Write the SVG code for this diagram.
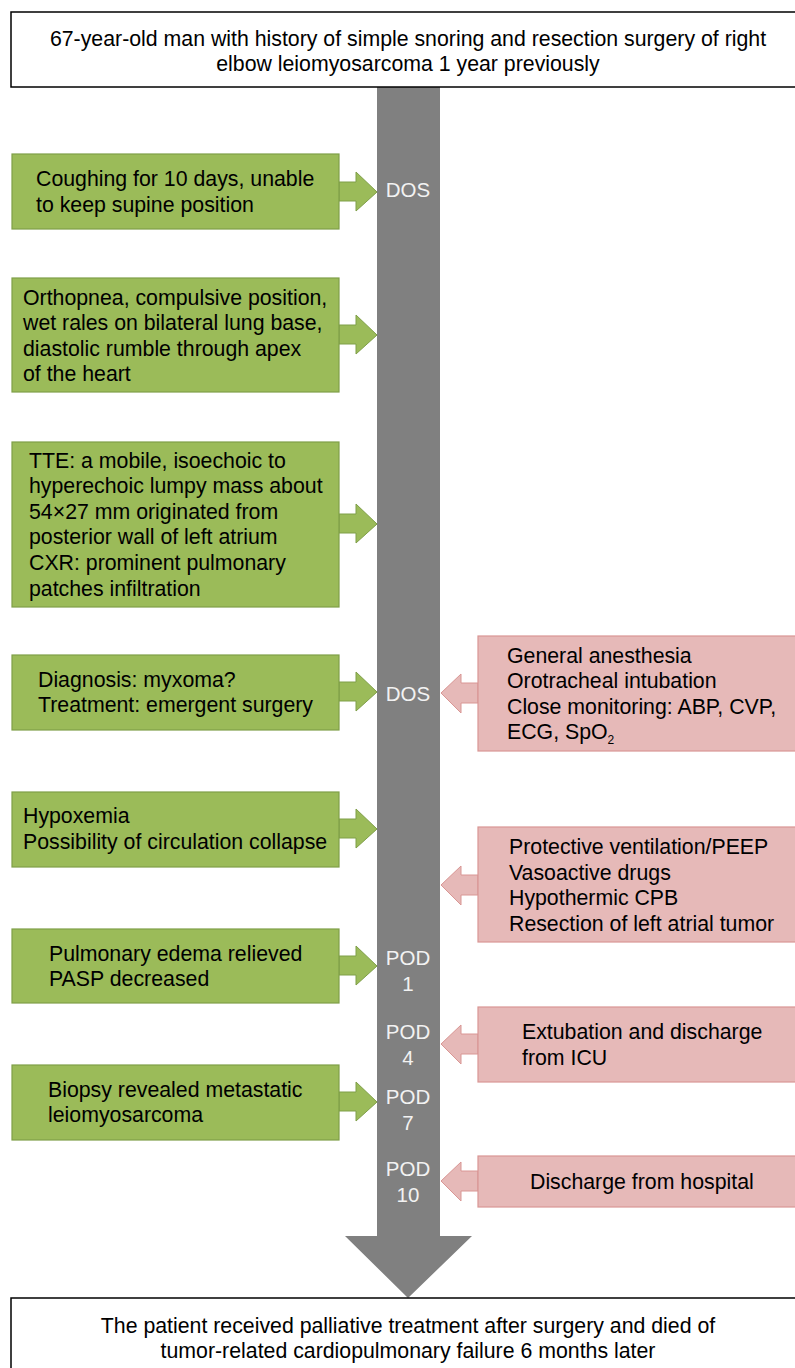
<svg xmlns="http://www.w3.org/2000/svg" width="795" height="1368" viewBox="0 0 795 1368">
<style>
text{font-family:"Liberation Sans",Arial,sans-serif;font-size:21.3px;fill:#000}
.wb{fill:#fff;stroke:#000;stroke-width:1.5}
.g{fill:#9BBB59;stroke:#7F9F48;stroke-width:1.2}
.p{fill:#E6B9B8;stroke:#D99694;stroke-width:1.2}
.ga{fill:#9BBB59;stroke:#7F9F48;stroke-width:1}
.pa{fill:#E6B9B8;stroke:#D99694;stroke-width:1}
.t{fill:#F2F2F2;text-anchor:middle;font-size:20.5px}
.c{text-anchor:middle}
</style>
<rect width="795" height="1368" fill="#fff"/>
<g id="timeline">
<path d="M377,87 H440 V1236 H472 L408,1298 L345,1236 H377 Z" fill="#808080"/>
<text class="t" x="408" y="197">DOS</text>
<text class="t" x="408" y="701">DOS</text>
<text class="t" x="408" y="965">POD</text>
<text class="t" x="408" y="991">1</text>
<text class="t" x="408" y="1039">POD</text>
<text class="t" x="408" y="1065">4</text>
<text class="t" x="408" y="1104">POD</text>
<text class="t" x="408" y="1130">7</text>
<text class="t" x="408" y="1176">POD</text>
<text class="t" x="408" y="1202">10</text>
</g>
<g id="top">
<rect class="wb" x="11" y="12" width="800" height="75"/>
<text class="c" x="408" y="46">67-year-old man with history of simple snoring and resection surgery of right</text>
<text class="c" x="408" y="71">elbow leiomyosarcoma 1 year previously</text>
</g>
<g id="bottom">
<rect class="wb" x="11" y="1298" width="800" height="80"/>
<text class="c" x="408" y="1333">The patient received palliative treatment after surgery and died of</text>
<text class="c" x="408" y="1358">tumor-related cardiopulmonary failure 6 months later</text>
</g>
<g id="connectors">
<path class="ga" d="M339,182 H356 V172 L377,192 L356,211 V201 H339 Z"/>
<path class="ga" d="M339,325 H356 V315 L377,335 L356,354 V344 H339 Z"/>
<path class="ga" d="M339,514 H356 V504 L377,524 L356,543 V533 H339 Z"/>
<path class="ga" d="M339,682 H356 V672 L377,692 L356,711 V701 H339 Z"/>
<path class="ga" d="M339,819 H356 V809 L377,829 L356,848 V838 H339 Z"/>
<path class="ga" d="M339,956 H356 V946 L377,966 L356,985 V975 H339 Z"/>
<path class="ga" d="M339,1092 H356 V1082 L377,1102 L356,1121 V1111 H339 Z"/>
<path class="pa" d="M478,683 H461 V674 L441,693 L461,713 V703 H478 Z"/>
<path class="pa" d="M478,875 H461 V866 L441,885 L461,905 V895 H478 Z"/>
<path class="pa" d="M478,1034 H461 V1025 L441,1044 L461,1064 V1054 H478 Z"/>
<path class="pa" d="M478,1171 H461 V1162 L441,1181 L461,1201 V1191 H478 Z"/>
</g>
<g id="g1">
<rect class="g" x="12" y="154" width="327" height="75"/>
<text x="36" y="186">Coughing for 10 days, unable</text>
<text x="36" y="212">to keep supine position</text>
</g>
<g id="g2">
<rect class="g" x="12" y="278" width="327" height="114"/>
<text x="23" y="305">Orthopnea, compulsive position,</text>
<text x="23" y="330">wet rales on bilateral lung base,</text>
<text x="23" y="356">diastolic rumble through apex</text>
<text x="23" y="381">of the heart</text>
</g>
<g id="g3">
<rect class="g" x="12" y="442" width="327" height="165"/>
<text x="29" y="468">TTE: a mobile, isoechoic to</text>
<text x="29" y="493">hyperechoic lumpy mass about</text>
<text x="29" y="519">54×27 mm originated from</text>
<text x="29" y="544">posterior wall of left atrium</text>
<text x="29" y="570">CXR: prominent pulmonary</text>
<text x="29" y="596">patches infiltration</text>
</g>
<g id="g4">
<rect class="g" x="12" y="655" width="327" height="75"/>
<text x="38" y="687">Diagnosis: myxoma?</text>
<text x="38" y="712">Treatment: emergent surgery</text>
</g>
<g id="g5">
<rect class="g" x="12" y="792" width="327" height="75"/>
<text x="23" y="823">Hypoxemia</text>
<text x="23" y="849">Possibility of circulation collapse</text>
</g>
<g id="g6">
<rect class="g" x="12" y="929" width="327" height="74"/>
<text x="49" y="961">Pulmonary edema relieved</text>
<text x="49" y="986">PASP decreased</text>
</g>
<g id="g7">
<rect class="g" x="12" y="1065" width="327" height="75"/>
<text x="48" y="1097">Biopsy revealed metastatic</text>
<text x="48" y="1122">leiomyosarcoma</text>
</g>
<g id="p1">
<rect class="p" x="478" y="636" width="330" height="115"/>
<text x="507" y="663">General anesthesia</text>
<text x="507" y="688">Orotracheal intubation</text>
<text x="507" y="714">Close monitoring: ABP, CVP,</text>
<text x="507" y="739">ECG, SpO<tspan font-size="12" dy="5">2</tspan></text>
</g>
<g id="p2">
<rect class="p" x="478" y="827" width="330" height="115"/>
<text x="509" y="854">Protective ventilation/PEEP</text>
<text x="509" y="880">Vasoactive drugs</text>
<text x="509" y="905">Hypothermic CPB</text>
<text x="509" y="931">Resection of left atrial tumor</text>
</g>
<g id="p3">
<rect class="p" x="478" y="1007" width="330" height="75"/>
<text x="522" y="1039">Extubation and discharge</text>
<text x="522" y="1065">from ICU</text>
</g>
<g id="p4">
<rect class="p" x="478" y="1156" width="330" height="51"/>
<text x="530" y="1189">Discharge from hospital</text>
</g>
</svg>
